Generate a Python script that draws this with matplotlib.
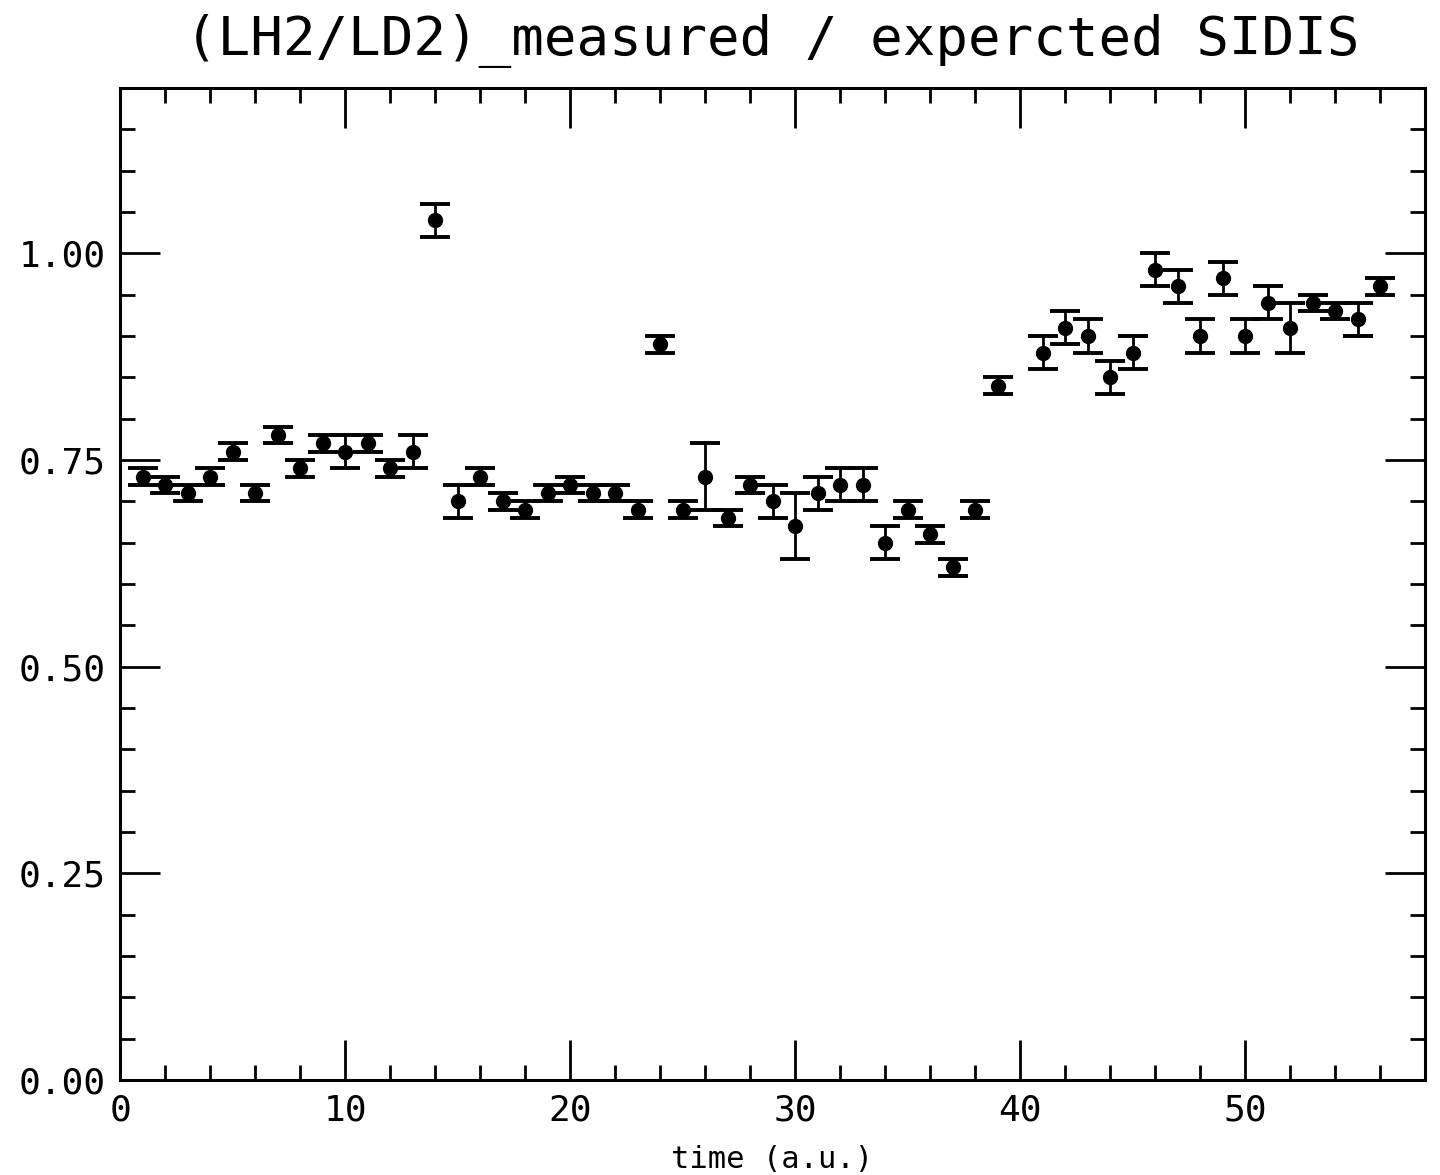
import numpy as np
import matplotlib
matplotlib.use("Agg")
import matplotlib.pyplot as plt
from matplotlib.ticker import MultipleLocator, FormatStrFormatter

# run index and measured ratio (LH2/LD2) / expected SIDIS
run = [1, 2, 3, 4, 5, 6, 7, 8, 9, 10, 11, 12, 13, 14, 15, 16, 17, 18, 19, 20,
       21, 22, 23, 24, 25, 26, 27, 28, 29, 30, 31, 32, 33, 34, 35, 36, 37, 38, 39,
       41, 42, 43, 44, 45, 46, 47, 48, 49, 50, 51, 52, 53, 54, 55, 56]
ratio = [0.73, 0.72, 0.71, 0.73, 0.76, 0.71, 0.78, 0.74, 0.77, 0.76,
         0.77, 0.74, 0.76, 1.04, 0.70, 0.73, 0.70, 0.69, 0.71, 0.72,
         0.71, 0.71, 0.69, 0.89, 0.69, 0.73, 0.68, 0.72, 0.70, 0.67,
         0.71, 0.72, 0.72, 0.65, 0.69, 0.66, 0.62, 0.69, 0.84,
         0.88, 0.91, 0.90, 0.85, 0.88, 0.98, 0.96, 0.90, 0.97, 0.90,
         0.94, 0.91, 0.94, 0.93, 0.92, 0.96]
err = [0.01, 0.01, 0.01, 0.01, 0.01, 0.01, 0.01, 0.01, 0.01, 0.02,
       0.01, 0.01, 0.02, 0.02, 0.02, 0.01, 0.01, 0.01, 0.01, 0.01,
       0.01, 0.01, 0.01, 0.01, 0.01, 0.04, 0.01, 0.01, 0.02, 0.04,
       0.02, 0.02, 0.02, 0.02, 0.01, 0.01, 0.01, 0.01, 0.01,
       0.02, 0.02, 0.02, 0.02, 0.02, 0.02, 0.02, 0.02, 0.02, 0.02,
       0.02, 0.03, 0.01, 0.01, 0.02, 0.01]

plt.rcParams['font.family'] = ['DejaVu Sans Mono', 'DejaVu Sans']

fig = plt.figure(figsize=(14.4, 11.75), dpi=100)
ax = fig.add_axes([120/1440, 1 - 1080/1175, 1305/1440, 992/1175])

ax.errorbar(run, ratio, yerr=err, fmt='o', color='black', markersize=10,
            elinewidth=2.0, capsize=10.5, capthick=2.8)

ax.set_xlim(0, 58)
ax.set_ylim(0, 1.2)
ax.xaxis.set_major_locator(MultipleLocator(10))
ax.xaxis.set_minor_locator(MultipleLocator(2))
ax.yaxis.set_major_locator(MultipleLocator(0.25))
ax.yaxis.set_minor_locator(MultipleLocator(0.05))
ax.yaxis.set_major_formatter(FormatStrFormatter('%.2f'))

ax.tick_params(which='both', direction='in', top=True, right=True,
               width=2, labelsize=26, color='black')
ax.tick_params(which='major', length=29, pad=10)
ax.tick_params(which='minor', length=11)
for s in ax.spines.values():
    s.set_linewidth(2.2)

ax.set_title('(LH2/LD2)_measured / expercted SIDIS', fontsize=39, pad=24)
fig.text(772/1440, 1 - 1160/1175, 'time (a.u.)', fontsize=22,
         ha='center', va='center')

fig.savefig('out.png', dpi=100)
